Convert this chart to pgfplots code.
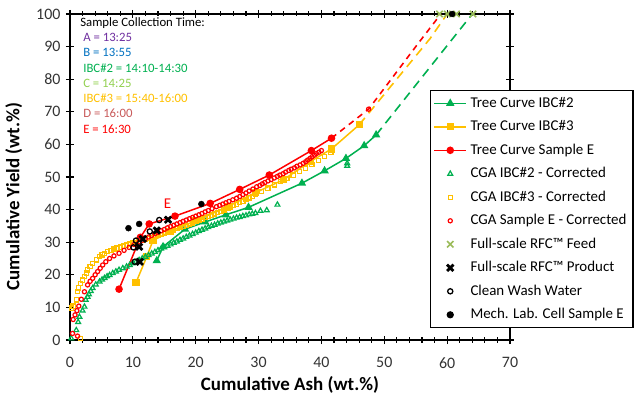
\documentclass[border=0pt]{standalone}
\usepackage{fontspec}
\setmainfont{Carlito}
\usepackage{pgfplots}
\pgfplotsset{compat=1.18}
\definecolor{cgreen}{RGB}{0,176,80}
\definecolor{corange}{RGB}{255,192,0}
\definecolor{cred}{RGB}{255,0,0}
\definecolor{colive}{RGB}{155,187,89}
\definecolor{cpurple}{RGB}{112,48,160}
\definecolor{cblue}{RGB}{0,112,192}
\definecolor{clgreen}{RGB}{146,208,80}
\definecolor{crose}{RGB}{200,90,90}
\begin{document}
\begin{tikzpicture}
\path[use as bounding box] (-70bp,-58bp) rectangle (564bp,340bp);
\begin{axis}[
  scale only axis, width=440bp, height=326bp,
  xmin=0, xmax=70, ymin=0, ymax=100,
  xtick={0,10,...,70}, ytick={0,10,...,100},
  minor x tick num=4,
  tick align=center,
  major tick length=8bp, minor tick length=5bp,
  every tick/.style={black, line width=1.2bp},
  axis line style={line width=2.5bp},
  tick label style={font=\fontsize{16}{18}\selectfont, text=black!80},
  xticklabel style={yshift=-10bp},
  yticklabel style={xshift=-2bp},
  /pgf/number format/assume math mode=true,
  xlabel={Cumulative Ash (wt.\%)},
  ylabel={Cumulative Yield (wt.\%)},
  xlabel style={font=\fontsize{19}{21}\selectfont\bfseries, at={(axis description cs:0.5,-0.138)}, anchor=center},
  ylabel style={font=\fontsize{19}{21}\selectfont\bfseries, at={(axis description cs:-0.128,0.44)}, anchor=center},
  clip=false,
  legend cell align=left,
  legend style={at={(rel axis cs:0.818,0.767)}, anchor=north west, draw=black, line width=1.2bp, fill=white,
    font=\fontsize{15}{17}\selectfont, nodes={text height=11bp, text depth=3.5bp, inner sep=3.5bp}, row sep=2bp},
  legend image code/.code={\draw[mark repeat=2,mark phase=2,#1] plot coordinates {(0bp,0bp)(16bp,0bp)(32bp,0bp)};},
]
% Tree curves (solid part)
\addplot[cgreen, line width=1.5bp, mark=triangle*, mark size=3.4bp, mark options={solid}] coordinates {
(13.8,24.3)(14.8,28.6)(18.3,34.0)(21.5,36.2)(24.8,38.4)(28.4,40.7)(36.9,48.1)(40.5,51.9)(43.9,55.7)(46.8,59.6)(48.7,62.9)};
\addlegendentry{Tree Curve IBC\#2}
\addplot[corange, line width=1.5bp, mark=square*, mark size=2.8bp, mark options={solid}] coordinates {
(10.5,17.6)(12.2,25.5)(13.2,30.5)(16,33.3)(20,36.6)(25,40.8)(29.5,45.2)(33.9,49.1)(38.2,54.7)(41.6,58.6)(46.0,66.0)};
\addlegendentry{Tree Curve IBC\#3}
\addplot[cred, line width=1.5bp, mark=*, mark size=3bp, mark options={solid}] coordinates {
(7.8,15.6)(11.2,31.5)(12.6,35.6)(16.7,38.0)(22.3,41.9)(27.0,46.2)(31.7,50.6)(38.4,58.1)(41.6,61.9)};
\addlegendentry{Tree Curve Sample E}
% Tree curves (dashed extrapolation)
\addplot[cgreen, line width=1.6bp, dash pattern=on 9bp off 6bp, forget plot] coordinates {(48.7,62.9)(64.0,100)};
\addplot[corange, line width=1.6bp, dash pattern=on 9bp off 6bp, forget plot] coordinates {(46.0,66.0)(57.3,92.5)(60.0,100)};
\addplot[cred, line width=1.6bp, dash pattern=on 6bp off 5bp, forget plot] coordinates {(41.6,61.9)(47.5,70.8)(55.4,91.0)(59.0,100)};
% CGA corrected
\addplot[only marks, cgreen, mark=triangle, mark size=2.8bp, line width=1.2bp] coordinates {
(0.2,0.5)(1.0,3.0)(1.3,5.5)(1.5,7.1)(2.0,9.0)(2.3,10.2)(2.5,12.3)(2.8,13.2)(3.0,14.0)(3.3,15.0)(3.6,15.9)(4.1,17.0)(4.7,17.9)(5.1,18.5)(5.5,19.0)(5.9,19.5)(6.3,19.9)(6.8,20.5)(7.3,21.0)(7.8,21.5)(8.4,22.0)(9.0,22.5)(9.5,23.0)(10.0,23.5)(10.5,24.0)(11.0,24.5)(11.5,25.0)(12.0,25.5)(12.5,26.0)(13.0,26.5)(13.5,27.0)(14.0,27.5)(14.5,28.0)(15.0,28.4)(15.5,28.9)(16.0,29.3)(16.5,29.8)(17.0,30.2)(17.5,30.7)(18.0,31.1)(18.5,31.6)(19.0,32.0)(19.5,32.5)(20.0,32.9)(20.5,33.4)(21.0,33.8)(21.5,34.2)(22.0,34.6)(22.5,35.0)(23.0,35.3)(23.5,35.7)(24.0,36.0)(24.5,36.3)(25.0,36.6)(25.5,36.9)(26.0,37.2)(26.5,37.5)(27.0,37.7)(27.5,38.0)(28.0,38.2)(28.5,38.5)(29.0,38.7)(29.5,38.9)(30.3,39.6)(31.3,39.8)(33.0,41.5)(44.1,53.4)(44.1,54.2)};
\addlegendentry{CGA IBC\#2 - Corrected}
\addplot[only marks, corange, mark=square, mark size=2.1bp, line width=1.2bp] coordinates {
(1.7,0.5)(0.2,9.8)(0.5,10.4)(1.0,12.3)(1.2,14.8)(1.4,16.0)(1.7,17.4)(2.0,18.4)(2.3,19.4)(2.6,20.5)(2.8,21.5)(3.2,22.5)(3.6,23.5)(4.2,24.6)(4.7,25.6)(5.1,26.1)(5.5,26.6)(6.0,27.1)(6.5,27.5)(7.0,27.9)(7.5,28.2)(8.0,28.5)(8.5,28.8)(9.0,29.1)(9.5,29.4)(10.0,29.7)(10.5,29.9)(11.0,30.2)(11.5,30.5)(12.0,30.8)(12.5,31.1)(13.0,31.5)(13.5,31.8)(14.0,32.1)(14.5,32.4)(15.0,32.8)(15.5,33.1)(16.0,33.5)(16.5,33.8)(17.0,34.2)(17.5,34.5)(18.0,34.9)(18.5,35.2)(19.0,35.6)(19.5,35.9)(20.0,36.3)(20.5,36.7)(21.0,37.1)(21.5,37.5)(22.0,37.9)(22.5,38.3)(23.0,38.7)(23.5,39.1)(24.0,39.5)(24.5,39.9)(25.0,40.4)(25.5,40.8)(26.0,41.2)(26.5,41.7)(27.0,42.1)(27.5,42.6)(28.0,43.1)(28.5,43.6)(29.0,44.1)(29.5,44.6)(30.5,45.6)(31.5,46.6)(32.5,47.6)(33.5,48.6)(34.5,49.6)(35.5,50.6)(36.5,51.6)(37.5,52.7)(38.5,53.8)(39.5,55.0)(40.5,56.3)(41.5,57.6)};
\addlegendentry{CGA IBC\#3 - Corrected}
\addplot[only marks, cred, mark=o, mark size=2.1bp, line width=1.2bp] coordinates {
(0.4,2.0)(1.2,1.2)(0.5,6.3)(0.8,7.7)(1.1,9.0)(1.4,10.4)(1.8,12.5)(2.3,14.8)(2.8,16.9)(3.2,18.0)(3.6,18.9)(4.0,20.0)(4.4,21.0)(4.8,22.0)(5.2,23.0)(5.7,24.0)(6.3,25.0)(7.0,25.8)(7.8,26.6)(8.6,27.5)(9.4,28.4)(10.2,29.3)(11.0,30.1)(11.5,30.6)(12.0,31.1)(12.5,31.6)(13.0,32.1)(13.5,32.6)(14.0,33.0)(14.5,33.5)(15.0,33.9)(15.5,34.4)(16.0,34.8)(16.5,35.2)(17.0,35.6)(17.5,36.0)(18.0,36.4)(18.5,36.8)(19.0,37.2)(19.5,37.6)(20.0,38.0)(20.5,38.4)(21.0,38.8)(21.5,39.3)(22.0,39.7)(22.6,40.3)(23.3,40.9)(23.8,41.3)(24.3,41.7)(24.8,42.1)(25.3,42.5)(25.9,43.0)(26.5,43.5)(27.0,44.0)(27.5,44.6)(28.0,45.1)(28.5,45.7)(29.1,46.3)(29.7,47.0)(30.2,47.4)(30.6,47.9)(31.0,48.3)(31.5,48.8)(32.0,49.2)(32.5,49.7)(33.0,50.2)(33.4,50.6)(33.9,51.0)(34.3,51.5)(34.8,52.0)(35.2,52.4)(35.7,52.8)(36.1,53.3)(36.6,53.7)(37.1,54.2)(37.5,54.7)(37.8,55.2)(38.2,55.7)(38.5,56.2)(38.9,56.7)(39.2,57.2)(39.6,57.6)(40.0,58.1)(47.5,70.8)};
\addlegendentry{CGA Sample E - Corrected}
% Full-scale
\addplot[only marks, colive, mark=x, mark size=4.5bp, line width=1.6bp] coordinates {
(58.8,100)(60.0,100)(61.5,100)(64.1,100)};
\addlegendentry{Full-scale RFC™ Feed}
\addplot[only marks, black, mark=x, mark size=4.5bp, line width=2.8bp] coordinates {
(11.1,24.0)(11.0,28.6)(11.6,31.0)(13.8,33.6)(15.6,36.9)};
\addlegendentry{Full-scale RFC™ Product}
\addplot[only marks, black, mark=o, mark size=2.6bp, line width=1.3bp, mark options={fill=white}] coordinates {
(10.3,24.0)(10.1,28.4)(10.5,30.5)(12.7,33.3)(14.2,36.8)};
\addlegendentry{Clean Wash Water}
\addplot[only marks, black, mark=*, mark size=3bp] coordinates {
(9.3,34.3)(11.0,35.6)(20.9,41.7)(60.8,100)};
\addlegendentry{Mech. Lab. Cell Sample E}
\node[text=cred, font=\fontsize{15}{17}\selectfont] at (axis cs:15.5,41.9) {E};
\node[anchor=north west, inner sep=0pt, align=left, font=\fontsize{12.8}{15.3}\selectfont] at (rel axis cs:0.023,0.99) {%
Sample Collection Time:\\
\hspace*{3bp}{\color{cpurple}A = 13:25}\\
\hspace*{3bp}{\color{cblue}B = 13:55}\\
\hspace*{3bp}{\color{cgreen}IBC\#2 = 14:10-14:30}\\
\hspace*{3bp}{\color{clgreen}C = 14:25}\\
\hspace*{3bp}{\color{corange}IBC\#3 = 15:40-16:00}\\
\hspace*{3bp}{\color{crose}D = 16:00}\\
\hspace*{3bp}{\color{cred}E = 16:30}};
\end{axis}
\end{tikzpicture}
\end{document}
